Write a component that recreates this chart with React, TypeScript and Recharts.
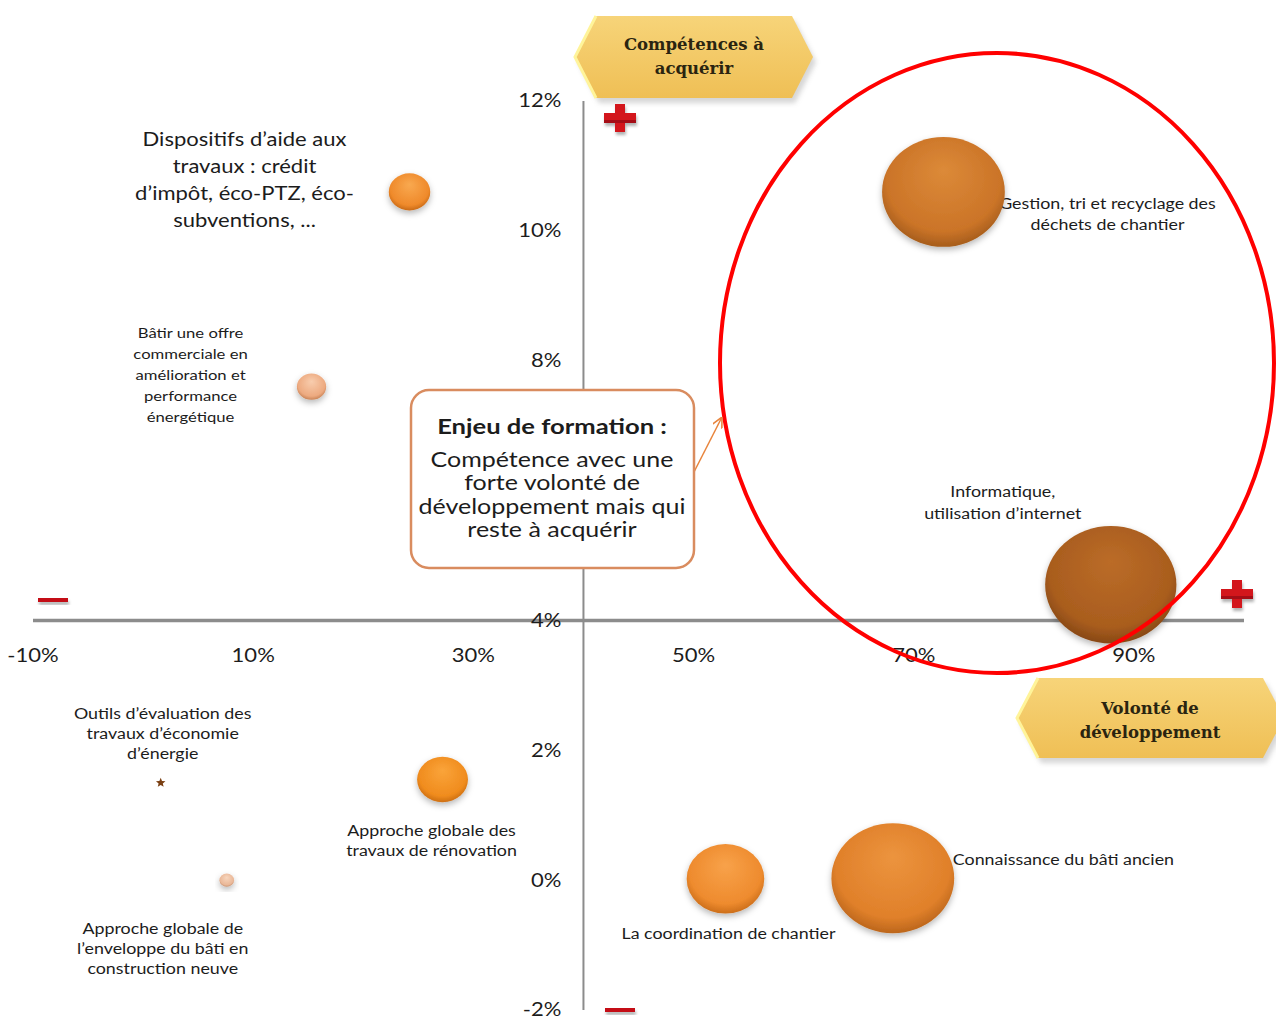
import React from 'react';
import { ScatterChart, Scatter, XAxis, YAxis, ZAxis, ReferenceLine, ReferenceDot } from 'recharts';

// competence labels ('\n' = line break in the chart)
const competences = [
    'Dispositifs d’aide aux\ntravaux : crédit\nd’impôt, éco-PTZ, éco-\nsubventions, ...',
    'Bâtir une offre\ncommerciale en\namélioration et\nperformance\nénergétique',
    'Gestion, tri et recyclage des\ndéchets de chantier',
    'Informatique,\nutilisation d’internet',
    'Outils d’évaluation des\ntravaux d’économie\nd’énergie',
    'Approche globale des\ntravaux de rénovation',
    'Approche globale de\nl’enveloppe du bâti en\nconstruction neuve',
    'La coordination de chantier',
    'Connaissance du bâti ancien',
];
// volonté de développement (%)
const volonte = [24.2, 15.3, 72.7, 87.9, 1.6, 27.2, 7.6, 52.9, 68.1];
// compétences à acquérir (%)
const acquerir = [10.6, 7.6, 10.6, 4.55, 1.5, 1.55, 0.0, 0.02, 0.03];
// bubble weight
const poids = [1.6, 0.8, 14, 16, 0.05, 2.4, 0.2, 5.6, 14];

const xTicks = [-10, 10, 30, 50, 70, 90];
// 6% sits under the callout box in the original, so it is not shown
const yTicks = [-2, 0, 2, 4, 8, 10, 12];

const data = competences.map((name, i) => ({ id: i, name, x: volonte[i], y: acquerir[i], z: poids[i] }));

// [light, base, dark]
const shades = [
    ['#F9A950', '#EF8A2B', '#C96A16'],
    ['#F8CDAE', '#EDAA80', '#C98458'],
    ['#DC8A38', '#CB7428', '#A65D1C'],
    ['#BB6C28', '#A95D1E', '#874815'],
    ['#8A4A18', '#7A3F12', '#5E300C'],
    ['#FAA43A', '#F08C1E', '#CD6F12'],
    ['#F7D6BE', '#EAB898', '#C99474'],
    ['#F8A24A', '#EE8B2E', '#CC6E1A'],
    ['#EC943E', '#E0802A', '#BC661C'],
];

// label placement relative to the bubble centre
const labelLayout = [
    { dx: -165, dy: -52, lh: 27, fs: 18.5, anchor: 'middle' },
    { dx: -121, dy: -54, lh: 21, fs: 14, anchor: 'middle' },
    { dx: 164, dy: 12, lh: 21, fs: 15, anchor: 'middle' },
    { dx: -108, dy: -93, lh: 22, fs: 15, anchor: 'middle' },
    { dx: 2, dy: -69, lh: 20, fs: 15, anchor: 'middle' },
    { dx: -11, dy: 51, lh: 20, fs: 15, anchor: 'middle' },
    { dx: -64, dy: 49, lh: 20, fs: 15, anchor: 'middle' },
    { dx: 3, dy: 55, lh: 20, fs: 15, anchor: 'middle' },
    { dx: 60, dy: -18, lh: 20, fs: 15, anchor: 'start' },
];

const FONT = 'Lato, sans-serif';
const SX = 1.19; // the original text is horizontally wide

const Stretched = ({ x, children }: { x: number; children: React.ReactNode }) => (
    <g transform={`translate(${x},0) scale(${SX},1)`}>{children}</g>
);

const Bubble = (props: any) => {
    const { cx, cy, width, payload } = props;
    const i = payload.id;
    const r = Math.max(width / 2, 1);
    const [light, base, dark] = shades[i];
    const lay = labelLayout[i];
    const lines = payload.name.split('\n');
    const gid = `bub-${i}`;

    const label = (
        <Stretched x={cx + lay.dx}>
            <text textAnchor={lay.anchor} fontSize={lay.fs} fontFamily={FONT} fill="#1c1c1c">
                {lines.map((l: string, k: number) => (
                    <tspan key={k} x={0} y={cy + lay.dy + k * lay.lh + lay.fs * 0.35}>{l}</tspan>
                ))}
            </text>
        </Stretched>
    );

    if (i === 4) {
        // tiny star marker
        const pts: string[] = [];
        for (let k = 0; k < 10; k++) {
            const a = -Math.PI / 2 + (k * Math.PI) / 5;
            const rr = k % 2 === 0 ? 5 : 2.2;
            pts.push(`${cx + rr * Math.cos(a)},${cy + rr * Math.sin(a)}`);
        }
        return (
            <g>
                {label}
                <polygon points={pts.join(' ')} fill={base} />
            </g>
        );
    }

    return (
        <g>
            <defs>
                <radialGradient id={gid} cx="50%" cy="42%" r="58%" fx="50%" fy="30%">
                    <stop offset="0%" stopColor={light} />
                    <stop offset="80%" stopColor={base} />
                    <stop offset="100%" stopColor={dark} />
                </radialGradient>
                <filter id={`sh-${i}`} x="-30%" y="-30%" width="160%" height="170%">
                    <feDropShadow dx="0" dy="3" stdDeviation="3" floodColor="#000" floodOpacity="0.28" />
                </filter>
            </defs>
            {label}
            <ellipse cx={cx} cy={cy} rx={r * 1.05} ry={r * 0.94} fill={`url(#${gid})`} filter={`url(#sh-${i})`} />
        </g>
    );
};

const XTick = (props: any) => {
    const vb = props.viewBox;
    const cx = vb.x + vb.width / 2;
    const cy = vb.y + vb.height / 2;
    return (
        <Stretched x={cx}>
            <text x={0} y={cy + 35 + 6.5} textAnchor="middle" fontSize={18.5} fontFamily={FONT} fill="#1c1c1c">{props.value}</text>
        </Stretched>
    );
};

const YTick = (props: any) => {
    const vb = props.viewBox;
    const cx = vb.x + vb.width / 2;
    const cy = vb.y + vb.height / 2;
    return (
        <Stretched x={cx - 22}>
            <text x={0} y={cy + 6.5} textAnchor="end" fontSize={18.5} fontFamily={FONT} fill="#1c1c1c">{props.value}</text>
        </Stretched>
    );
};

const Plus = ({ x, y }: { x: number; y: number }) => (
    <g filter="url(#ovShadow)">
        <rect x={x - 16} y={y - 5} width={32} height={10} fill="#D3171D" />
        <rect x={x - 5} y={y - 14} width={10} height={28} fill="#D3171D" />
        <rect x={x - 16} y={y + 2} width={32} height={3} fill="#A50F13" />
    </g>
);

const Minus = ({ x, y }: { x: number; y: number }) => (
    <g filter="url(#ovShadow)">
        <rect x={x - 15} y={y - 2} width={30} height={4} fill="#C41018" />
    </g>
);

const Hexagon = ({ x1, x2, y1, y2, lines, cx, ly }: any) => {
    const my = (y1 + y2) / 2;
    const cut = 21;
    const pts = `${x1},${my} ${x1 + cut},${y1} ${x2 - cut},${y1} ${x2},${my} ${x2 - cut},${y2} ${x1 + cut},${y2}`;
    return (
        <g>
            <polygon points={pts} fill="#8a8a8a" opacity={0.35} transform="translate(3,5)" filter="url(#hexBlur)" />
            <polygon points={pts} fill="url(#hexGrad)" />
            <polyline points={`${x1 + cut},${y1} ${x1},${my} ${x1 + cut},${y2}`} fill="none" stroke="#FFF49A" strokeWidth={3} />
            <text textAnchor="middle" fontFamily="'DejaVu Serif', serif" fontWeight="bold" fontSize={16.5} fill="#2a2410">
                {lines.map((l: string, k: number) => (
                    <tspan key={k} x={cx} y={ly + k * 24}>{l}</tspan>
                ))}
            </text>
        </g>
    );
};

const App: React.FC = () => {
    return (
        <div style={{ position: 'relative', width: 1276, height: 1021, background: '#fff' }}>
            <style>{'body{margin:0}'}</style>
            <ScatterChart width={1276} height={1021} margin={{ top: 101, right: 32, bottom: 11, left: 33 }}>
                <XAxis type="number" dataKey="x" domain={[-10, 100]} hide />
                <YAxis type="number" dataKey="y" domain={[-2, 12]} hide />
                <ZAxis type="number" dataKey="z" domain={[0, 16]} range={[0, 12272]} />
                <ReferenceLine y={4} stroke="#8c8c8c" strokeWidth={3.5} />
                <ReferenceLine x={40} stroke="#8c8c8c" strokeWidth={2} />
                {xTicks.map(t => (
                    <ReferenceDot key={'x' + t} x={t} y={4} r={0} fill="none" stroke="none"
                        label={{ value: `${t}%`, content: XTick }} />
                ))}
                {yTicks.map(t => (
                    <ReferenceDot key={'y' + t} x={40} y={t} r={0} fill="none" stroke="none"
                        label={{ value: `${t}%`, content: YTick }} />
                ))}
                <Scatter data={data} shape={Bubble} isAnimationActive={false} />
            </ScatterChart>

            <svg width={1276} height={1021} style={{ position: 'absolute', left: 0, top: 0, pointerEvents: 'none' }}>
                <defs>
                    <linearGradient id="hexGrad" x1="0" y1="0" x2="0" y2="1">
                        <stop offset="0%" stopColor="#F7D479" />
                        <stop offset="100%" stopColor="#EFBF55" />
                    </linearGradient>
                    <filter id="hexBlur" x="-10%" y="-20%" width="120%" height="140%">
                        <feGaussianBlur stdDeviation="2.5" />
                    </filter>
                    <filter id="ovShadow" x="-30%" y="-30%" width="160%" height="200%">
                        <feDropShadow dx="1" dy="3" stdDeviation="1.5" floodColor="#000" floodOpacity="0.3" />
                    </filter>
                    <marker id="arrow" viewBox="0 0 10 10" refX="8" refY="5" markerWidth="7" markerHeight="7" orient="auto">
                        <path d="M0,0 L10,5 L0,10" fill="none" stroke="#E8843C" strokeWidth="1.5" />
                    </marker>
                </defs>

                <Hexagon x1={575} x2={813} y1={16} y2={98} cx={694} ly={50} lines={['Compétences à', 'acquérir']} />
                <Hexagon x1={1017} x2={1284} y1={678} y2={758} cx={1150} ly={714} lines={['Volonté de', 'développement']} />

                <Plus x={620} y={118} />
                <Plus x={1237} y={594} />
                <Minus x={53} y={600} />
                <Minus x={620} y={1010} />

                <ellipse cx={997} cy={363} rx={277} ry={310} fill="none" stroke="#FF0000" strokeWidth={4} />

                <line x1={694} y1={472} x2={721} y2={419} stroke="#E8843C" strokeWidth={1.5} markerEnd="url(#arrow)" />
                <rect x={411} y={390} width={283} height={178} rx={18} ry={18} fill="#fff" stroke="#D98C5F" strokeWidth={2.5} />
                <Stretched x={552}>
                    <text textAnchor="middle" fontFamily={FONT} fill="#1c1c1c">
                        <tspan x={0} y={434} fontSize={21.5} fontWeight="bold">Enjeu de formation :</tspan>
                        <tspan x={0} y={467} fontSize={21}>Compétence avec une</tspan>
                        <tspan x={0} y={490} fontSize={21}>forte volonté de</tspan>
                        <tspan x={0} y={514} fontSize={21}>développement mais qui</tspan>
                        <tspan x={0} y={537} fontSize={21}>reste à acquérir</tspan>
                    </text>
                </Stretched>
            </svg>
        </div>
    );
};

export default App;
